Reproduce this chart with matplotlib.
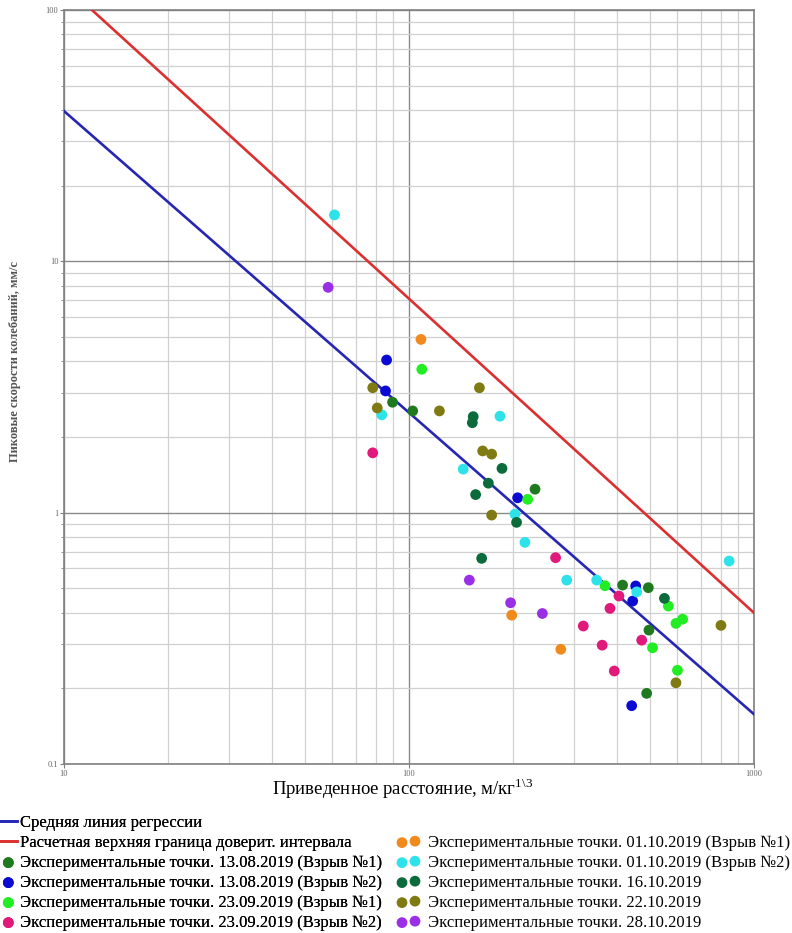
import numpy as np
import matplotlib.pyplot as plt

plt.rcParams['font.family'] = ['Liberation Serif', 'DejaVu Serif']
plt.rcParams['mathtext.fontset'] = 'custom'
plt.rcParams['mathtext.rm'] = 'Liberation Serif'

# Regression line and upper confidence bound: V = k * (R / 100) ** n
reg_k, reg_n = 2.5, -1.2
upper_k, upper_n = 7.1, -1.25

# Measured points, scaled distance (m/kg^1/3) and peak particle velocity (mm/s)
x_1308_1 = [89.6, 102.5, 231.9, 416, 494, 496, 488.5]
y_1308_1 = [2.75, 2.54, 1.24, 0.515, 0.503, 0.341, 0.191]

x_1308_2 = [86.1, 85.5, 206.5, 454, 445, 442]
y_1308_2 = [4.05, 3.05, 1.146, 0.511, 0.445, 0.1706]

x_2309_1 = [108.9, 220.8, 370, 564.7, 594, 621, 508, 600]
y_2309_1 = [3.72, 1.13, 0.512, 0.425, 0.3626, 0.377, 0.290, 0.236]

x_2309_2 = [78.5, 266, 320, 363, 406, 382.4, 472.6, 393.6]
y_2309_2 = [1.73, 0.662, 0.354, 0.297, 0.466, 0.416, 0.311, 0.2344]

x_0110_1 = [108.3, 198.5, 275.4]
y_0110_1 = [4.89, 0.391, 0.286]

x_0110_2 = [60.8, 83.4, 183.5, 143.6, 202.8, 216.8, 286.5, 350, 457, 847]
y_0110_2 = [15.3, 2.45, 2.42, 1.49, 0.987, 0.762, 0.539, 0.539, 0.484, 0.642]

x_1610 = [153.5, 152.6, 186, 169.8, 156, 205, 162.4, 550]
y_1610 = [2.41, 2.28, 1.50, 1.31, 1.18, 0.915, 0.658, 0.456]

x_2210 = [78.5, 160, 80.9, 122.5, 163.5, 173.6, 173.6, 802, 594]
y_2210 = [3.14, 3.14, 2.61, 2.54, 1.76, 1.71, 0.978, 0.356, 0.2104]

x_2810 = [58.3, 149.6, 197, 243.5]
y_2810 = [7.88, 0.539, 0.438, 0.397]

series = [
    (x_1308_1, y_1308_1, '#1f7a1f', 'Экспериментальные точки. 13.08.2019 (Взрыв №1)'),
    (x_1308_2, y_1308_2, '#0a0ad2', 'Экспериментальные точки. 13.08.2019 (Взрыв №2)'),
    (x_2309_1, y_2309_1, '#22ec22', 'Экспериментальные точки. 23.09.2019 (Взрыв №1)'),
    (x_2309_2, y_2309_2, '#e0197a', 'Экспериментальные точки. 23.09.2019 (Взрыв №2)'),
    (x_0110_1, y_0110_1, '#f08a1c', 'Экспериментальные точки. 01.10.2019 (Взрыв №1)'),
    (x_0110_2, y_0110_2, '#2ee2ea', 'Экспериментальные точки. 01.10.2019 (Взрыв №2)'),
    (x_1610, y_1610, '#0b6b3b', 'Экспериментальные точки. 16.10.2019'),
    (x_2210, y_2210, '#7f7a12', 'Экспериментальные точки. 22.10.2019'),
    (x_2810, y_2810, '#9a30e6', 'Экспериментальные точки. 28.10.2019'),
]

fig = plt.figure(figsize=(7.92, 9.33), dpi=100)
ax = fig.add_axes([64 / 792, 1 - 764 / 933, 690 / 792, 754 / 933])
ax.set_xscale('log')
ax.set_yscale('log')
ax.set_xlim(10, 1000)
ax.set_ylim(0.1, 100)

xs = np.logspace(1, 3, 200)
reg_line, = ax.plot(xs, reg_k * (xs / 100) ** reg_n, color='#2626b4', lw=1.9,
                    label='Средняя линия регрессии', zorder=3)
up_line, = ax.plot(xs, upper_k * (xs / 100) ** upper_n, color='#dc3030', lw=1.9,
                   label='Расчетная верхняя граница доверит. интервала', zorder=3)

pts = []
for x, y, c, lab in series:
    pts.append(ax.scatter(x, y, s=60, color=c, edgecolors='none', label=lab, zorder=4))

# grid
ax.grid(True, which='major', color='#8a8a8a', lw=1.0)
ax.grid(True, which='minor', color='#d0d0d0', lw=0.9)
ax.set_axisbelow(True)
for side in ['left', 'bottom', 'top', 'right']:
    ax.spines[side].set_color('#808080')
    ax.spines[side].set_linewidth(1.2)

ax.set_xticks([10, 100, 1000])
ax.set_xticklabels(['10', '100', '1000'])
ax.set_yticks([0.1, 1, 10, 100])
ax.set_yticklabels(['0.1', '1', '10', '100'])
ax.tick_params(which='both', labelsize=6, labelcolor='#666666', color='#808080')
ax.tick_params(which='major', length=3, pad=1)
ax.tick_params(which='minor', length=2)
ax.tick_params(axis='x', which='minor', length=0)

fig.text(403 / 792, 1 - 789 / 933,
         r'Приведенное расстояние, м/кг$^{\mathregular{1\backslash3}}$',
         ha='center', va='center', fontsize=13.5)
fig.text(15 / 792, 1 - 362 / 933, 'Пиковые скорости колебаний, мм/с',
         rotation=90, ha='center', va='center', fontsize=9, color='#555555',
         fontweight='bold')

# legend, two columns below the chart
left = fig.legend(handles=[reg_line, up_line] + pts[:4], loc='upper left',
                  bbox_to_anchor=(0.0, 1 - 815 / 933), frameon=False,
                  fontsize=12, handlelength=1.0, handletextpad=0.2,
                  labelspacing=0.24, borderpad=0, borderaxespad=0,
                  scatterpoints=1)
fig.add_artist(left)
fig.legend(handles=pts[4:], loc='upper left',
           bbox_to_anchor=(397 / 792, 1 - 835 / 933), frameon=False,
           fontsize=12, handlelength=1.38, handletextpad=0.48,
           labelspacing=0.24, borderpad=0, borderaxespad=0,
           scatterpoints=2)

fig.savefig('out.png', dpi=100)
